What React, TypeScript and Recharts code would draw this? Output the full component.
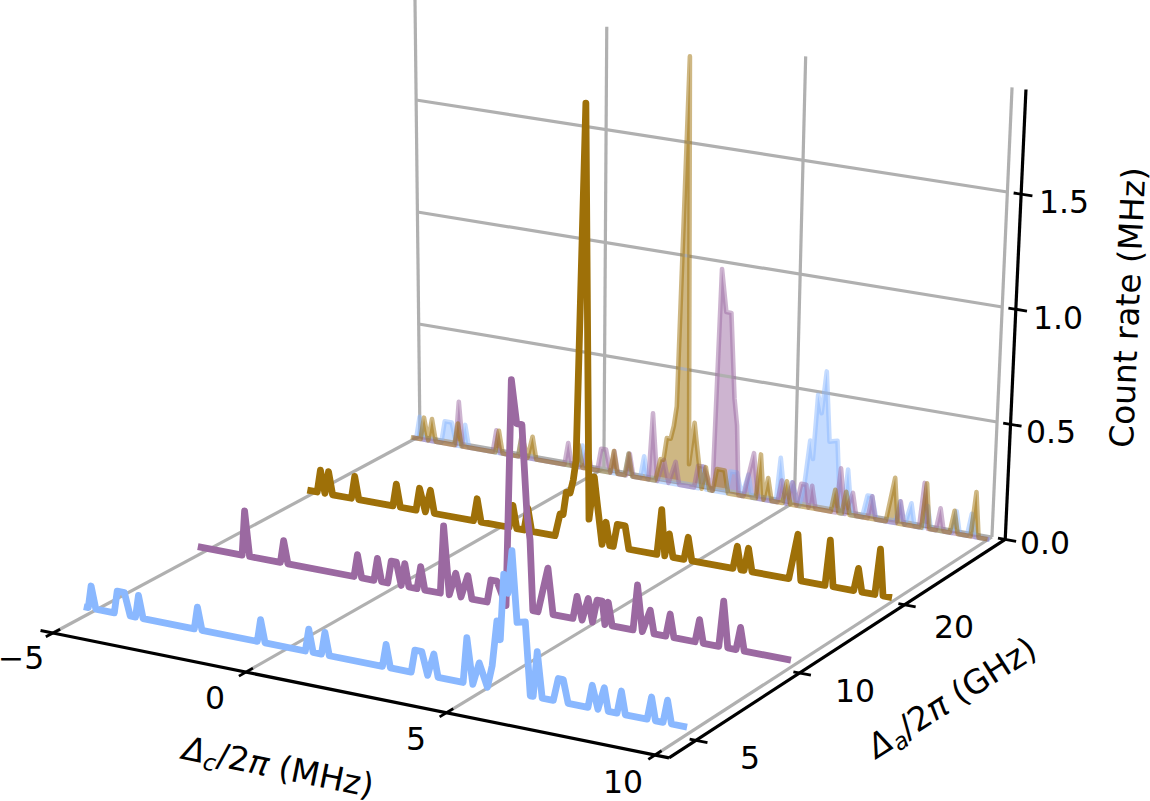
import { Area, ComposedChart, Line, XAxis, YAxis } from "recharts";

// [detuning in MHz, count rate in MHz]
const brownTrace = [
  [-5.24, 0], [-4.97, 0], [-4.87, 0.1], [-4.76, 0], [-4.65, 0.1], [-4.55, 0], [-4.04, 0], [-3.94, 0.1], [-3.84, 0],
  [-2.92, 0], [-2.82, 0.1], [-2.72, 0], [-2.3, 0], [-2.2, 0.1], [-2.05, 0], [-1.91, 0.1], [-1.81, 0], [-0.77, 0],
  [-0.67, 0.1], [-0.57, 0], [0.17, 0], [0.27, 0.1], [0.37, 0], [0.56, 0], [0.66, 0.1], [0.76, 0], [1.37, 0],
  [1.5, 0.1], [1.58, 0.1], [1.66, 0.2], [1.76, 0.2], [1.84, 0.26], [1.91, 0.35], [2.12, 1.93], [2.25, 0.1],
  [2.38, 0.29], [2.45, 0.19], [2.59, 0], [2.69, 0.1], [2.79, 0], [2.88, 0], [2.98, 0.1], [3.18, 0.1], [3.28, 0],
  [4.0, 0], [4.11, 0.2], [4.2, 0], [4.31, 0.1], [4.41, 0], [4.69, 0], [4.79, 0.1], [4.89, 0], [5.93, 0],
  [6.03, 0.1], [6.13, 0], [6.21, 0], [6.31, 0.1], [6.41, 0], [7.33, 0], [7.53, 0.2], [7.63, 0], [8.23, 0],
  [8.33, 0.2], [8.43, 0], [8.94, 0], [9.04, 0.1], [9.14, 0], [9.46, 0], [9.56, 0.2], [9.66, 0], [9.88, 0],
];

const purpleTrace = [
  [-5.32, 0], [-4.13, 0], [-4.03, 0.2], [-3.93, 0], [-3.11, 0], [-3.01, 0.1], [-2.91, 0], [-1.17, 0], [-1.07, 0.1],
  [-0.97, 0], [-0.65, 0], [-0.55, 0.1], [-0.45, 0], [-0.29, 0], [-0.19, 0.1], [-0.06, 0.1], [0.06, 0], [0.16, 0.1],
  [0.26, 0], [0.47, 0], [0.57, 0.1], [0.67, 0], [1.07, 0], [1.17, 0.3], [1.3, 0], [1.47, 0.1], [1.6, 0],
  [1.78, 0.1], [1.88, 0], [2.27, 0], [2.37, 0.1], [2.52, 0.1], [2.75, 0], [2.9, 1.0], [3.03, 0.81], [3.16, 0.81],
  [3.28, 0.43], [3.36, 0.31], [3.43, 0], [3.56, 0], [3.81, 0.2], [3.94, 0], [4.44, 0], [4.54, 0.1], [4.67, 0],
  [4.82, 0.1], [4.93, 0], [5.04, 0.1], [5.17, 0.1], [5.24, 0], [5.32, 0.1], [5.42, 0], [5.94, 0], [6.04, 0.2],
  [6.17, 0], [6.36, 0.1], [6.46, 0], [6.75, 0], [6.85, 0.1], [6.95, 0], [7.47, 0], [7.57, 0.1], [7.67, 0], [8.05, 0],
  [8.15, 0.2], [8.27, 0], [8.47, 0], [8.57, 0.1], [8.67, 0], [9.8, 0],
];

const blueTrace = [
  [-5.35, 0], [-5.23, 0], [-5.13, 0.1], [-5.03, 0], [-4.54, 0], [-4.44, 0.1], [-4.25, 0.1], [-4.12, 0], [-3.98, 0],
  [-3.88, 0.1], [-3.78, 0], [-2.44, 0], [-2.34, 0.1], [-2.24, 0], [-0.81, 0], [-0.71, 0.1], [-0.61, 0], [0.42, 0],
  [0.52, 0.1], [0.62, 0], [0.83, 0], [0.93, 0.1], [1.03, 0], [2.37, 0], [2.47, 0.1], [2.57, 0], [3.09, 0],
  [3.19, 0.1], [3.36, 0.1], [3.5, 0], [3.66, 0.1], [3.76, 0], [4.38, 0], [4.48, 0.2], [4.62, 0], [4.78, 0.1],
  [4.98, 0], [5.1, 0.1], [5.22, 0.3], [5.3, 0.22], [5.39, 0.51], [5.49, 0.43], [5.59, 0.62], [5.71, 0.31],
  [5.91, 0.32], [6.03, 0], [6.1, 0], [6.2, 0.2], [6.32, 0], [6.59, 0], [6.71, 0.1], [6.83, 0.1], [6.95, 0],
  [7.43, 0], [7.53, 0.1], [7.67, 0], [7.82, 0.1], [7.92, 0], [8.13, 0], [8.23, 0.1], [8.33, 0], [8.85, 0],
  [8.95, 0.1], [9.05, 0], [9.23, 0], [9.33, 0.1], [9.43, 0], [9.8, 0],
];

const dcTicks = [-5, 0, 5, 10];
const daTickDepths = [0.074, 0.368, 0.682];
const rateTicks = [0.5, 1.0, 1.5];
const allRateTicks = [0, 0.5, 1.0, 1.5];

const BROWN = "#9e7008";
const PURPLE = "#9b69a1";
const BLUE = "#8ab8ff";
const GRID = "#b0b0b0";
const FONT = "DejaVu Sans";

// depth on the floor (0 = front axis, 1 = back wall) for each trace
const series = [
  { name: "brown", trace: brownTrace, color: BROWN, depth: 0.7, wallShift: 0.1 },
  { name: "purple", trace: purpleTrace, color: PURPLE, depth: 0.407, wallShift: 0.22 },
  { name: "blue", trace: blueTrace, color: BLUE, depth: 0.1114, wallShift: 0.24 },
];
const WALL_DEPTH = 0.988;
const WALL_SCALE = 0.98;
const TOP = 1.955;

// perspective of the 3d box, fitted on its corners
function project(dc: number, depth: number, rate: number) {
  const s = (dc + 5) / 15;
  const w = 1 - 0.0566 * s + 0.0858 * depth;
  const fx = (53 + 564.9 * s + 403 * depth) / w;
  const fy = (633 + 79.3 * s - 159.6 * depth) / w;
  const dy = rate * (224 + 6 * s);
  return { px: fx + (dy * (fx - 537)) / (10700 - fy), py: fy - dy };
}

const seg = (key: string, data: { px: number; py: number }[], stroke: string, width: number) => (
  <Line
    key={key}
    data={data}
    dataKey="py"
    type="linear"
    stroke={stroke}
    strokeWidth={width}
    dot={false}
    activeDot={false}
    legendType="none"
    isAnimationActive={false}
  />
);

const pt = project;
const AXIS_S = 10 + 0.022 * 15; // the black axes sit just outside the box
const LEFT_S = -5 - 0.022 * 15;

const gridLines = [
  ...dcTicks.map((d) => seg(`floor${d}`, [pt(d, 0, 0), pt(d, 1, 0)], GRID, 3.2)),
  ...dcTicks.map((d) => seg(`wall${d}`, [pt(d, 1, 0), pt(d, 1, TOP)], GRID, 3.2)),
  seg("base", [pt(-5, 1, 0), pt(10, 1, 0)], GRID, 3.2),
  ...rateTicks.map((r) => seg(`rate${r}`, [pt(-5, 1, r), pt(10, 1, r)], GRID, 3.2)),
];

const axisLines = [
  seg("axisC", [pt(LEFT_S, 0, 0), pt(AXIS_S, 0, 0)], "#000", 3.2),
  seg("axisA", [pt(AXIS_S, 0, 0), pt(AXIS_S, 1, 0)], "#000", 3.2),
  seg("axisZ", [pt(AXIS_S, 1, 0), pt(AXIS_S, 1, TOP)], "#000", 3.2),
  ...dcTicks.map((d) => seg(`tickC${d}`, [pt(d, -0.018, 0), pt(d, 0.018, 0)], "#000", 2.8)),
  ...daTickDepths.map((t) => seg(`tickA${t}`, [pt(10.18, t, 0), pt(10.6, t, 0)], "#000", 2.8)),
  ...allRateTicks.map((r) => seg(`tickZ${r}`, [pt(10.15, 1, r), pt(10.6, 1, r)], "#000", 2.8)),
];

const wallOrder = [series[2], series[1], series[0]];
const wallMarks = wallOrder.flatMap((s) => {
  const line = s.trace.map(([d, r]) => pt(d + s.wallShift, WALL_DEPTH, r * WALL_SCALE));
  const fill = s.trace.map(([d, r]) => {
    const top = pt(d + s.wallShift, WALL_DEPTH, r * WALL_SCALE);
    return { px: top.px, range: [pt(d + s.wallShift, WALL_DEPTH, 0).py, top.py] };
  });
  return [
    <Area
      key={`fill-${s.name}`}
      data={fill}
      dataKey="range"
      type="linear"
      stroke="none"
      fill={s.color}
      fillOpacity={0.5}
      dot={false}
      activeDot={false}
      legendType="none"
      isAnimationActive={false}
    />,
    <Line
      key={`wall-${s.name}`}
      data={line}
      dataKey="py"
      type="linear"
      stroke={s.color}
      strokeOpacity={0.5}
      strokeWidth={4.6}
      strokeLinejoin="round"
      dot={false}
      activeDot={false}
      legendType="none"
      isAnimationActive={false}
    />,
  ];
});

const frontMarks = series.map((s) => (
  <Line
    key={`front-${s.name}`}
    data={s.trace.map(([d, r]) => pt(d, s.depth, r))}
    dataKey="py"
    type="linear"
    stroke={s.color}
    strokeWidth={6.8}
    strokeLinejoin="round"
    dot={false}
    activeDot={false}
    legendType="none"
    isAnimationActive={false}
  />
));

const tickFont = { fontFamily: FONT, fontSize: 31.5, fill: "#000" };

export default function App() {
  return (
    <div style={{ position: "absolute", left: 0, top: 0, width: 1150, height: 801, background: "#fff" }}>
      <ComposedChart width={1150} height={801} margin={{ top: 0, right: 0, bottom: 0, left: 0 }}>
        <XAxis dataKey="px" type="number" domain={[0, 1150]} allowDataOverflow hide />
        <YAxis type="number" domain={[0, 801]} reversed allowDataOverflow hide />
        {gridLines}
        {axisLines}
        {wallMarks}
        {frontMarks}

        <text x={21} y={669} textAnchor="middle" {...tickFont}>−5</text>
        <text x={215} y={709} textAnchor="middle" {...tickFont}>0</text>
        <text x={416} y={750} textAnchor="middle" {...tickFont}>5</text>
        <text x={623} y={793} textAnchor="middle" {...tickFont}>10</text>

        <text x={750} y={769} textAnchor="middle" {...tickFont}>5</text>
        <text x={855} y={702} textAnchor="middle" {...tickFont}>10</text>
        <text x={954} y={638} textAnchor="middle" {...tickFont}>20</text>

        <text x={1020} y={554} {...tickFont}>0.0</text>
        <text x={1026} y={443} {...tickFont}>0.5</text>
        <text x={1033} y={329} {...tickFont}>1.0</text>
        <text x={1039} y={213} {...tickFont}>1.5</text>

        <text x={1139} y={308} textAnchor="middle" transform="rotate(-87.4 1139 308)" {...tickFont} fontSize={32.8}>
          Count rate (MHz)
        </text>
        <text x={276} y={778} textAnchor="middle" transform="rotate(11.5 276 778)" {...tickFont} fontSize={33}>
          <tspan fontStyle="italic">Δ</tspan>
          <tspan fontStyle="italic" fontSize={23} dy={6}>c</tspan>
          <tspan dy={-6}>/2</tspan>
          <tspan fontStyle="italic">π</tspan> (MHz)
        </text>
        <text x={958} y={707} textAnchor="middle" transform="rotate(-32.6 958 707)" {...tickFont} fontSize={33}>
          <tspan fontStyle="italic">Δ</tspan>
          <tspan fontStyle="italic" fontSize={23} dy={6}>a</tspan>
          <tspan dy={-6}>/2</tspan>
          <tspan fontStyle="italic">π</tspan> (GHz)
        </text>
      </ComposedChart>
    </div>
  );
}
